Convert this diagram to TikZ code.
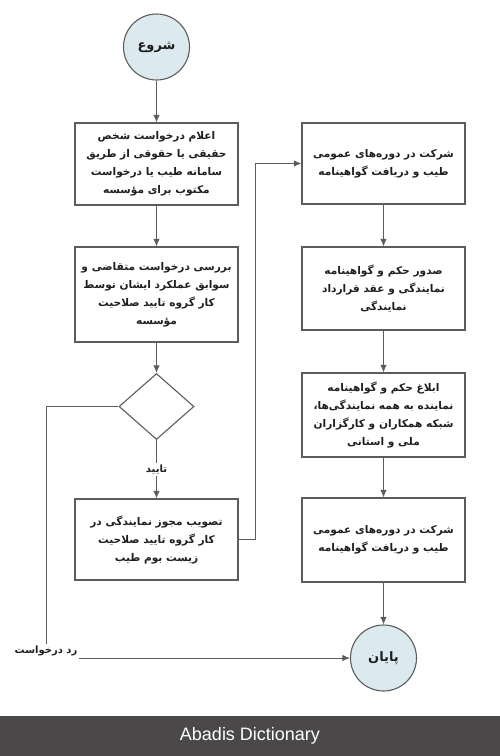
\documentclass[tikz,border=0pt]{standalone}
\usepackage{fontspec}
\setmainfont{Liberation Sans}
\newfontfamily\farsi[Script=Arabic]{DejaVu Sans}
\TeXXeTstate=1
\usetikzlibrary{shapes.geometric,arrows.meta}
\definecolor{linegray}{HTML}{5C5C5C}
\definecolor{circfill}{HTML}{DCE9EE}
\definecolor{bargray}{HTML}{4A4849}
\definecolor{inkgray}{HTML}{1F1F1F}
\newcommand{\fa}[1]{\beginR #1\endR}

\begin{document}
\begin{tikzpicture}[x=1pt,y=-1pt,>={Latex[length=7.5pt,width=6.5pt]},
        task/.style={draw=linegray, line width=1.1pt, minimum width=163, inner sep=2pt,
            align=center, text=inkgray, font=\farsi\bfseries\fontsize{10.6}{18}\selectfont},
        term/.style={circle, draw=linegray, line width=1.1pt, fill=circfill, minimum size=66,
            inner sep=0pt, text=inkgray, font=\farsi\bfseries\fontsize{13}{15}\selectfont},
        choice/.style={diamond, draw=linegray, line width=1.1pt, minimum width=75,
            minimum height=66, inner sep=0pt},
        lbl/.style={fill=white, inner sep=2pt, text=inkgray,
            font=\farsi\bfseries\fontsize{10}{12}\selectfont},
        flow/.style={draw=linegray, line width=1pt}]
    \useasboundingbox (0,0) rectangle (500,756);

    % start and end
    \node[term] (start) at (156.5,47) {\fa{شروع}};
    \node[term] (fin) at (383.5,658) {\fa{پایان}};

    % left column
    \node[task, minimum height=82] (req) at (156.5,164)
        {\fa{اعلام درخواست شخص}\\\fa{حقیقی یا حقوقی از طریق}\\\fa{سامانه طیب یا درخواست}\\\fa{مکتوب برای مؤسسه}};
    \node[task, minimum height=95] (check) at (156.5,294.5)
        {\fa{بررسی درخواست متقاضی و}\\\fa{سوابق عملکرد ایشان توسط}\\\fa{کار گروه تایید صلاحیت}\\\fa{مؤسسه}};
    \node[choice] (dec) at (156.5,406.5) {};
    \node[task, minimum height=81] (approve) at (156.5,539.5)
        {\fa{تصویب مجوز نمایندگی در}\\\fa{کار گروه تایید صلاحیت}\\\fa{زیست بوم طیب}};

    % right column
    \node[task, minimum height=81] (course) at (383.5,163.5)
        {\fa{شرکت در دوره‌های عمومی}\\\fa{طیب و دریافت گواهینامه}};
    \node[task, minimum height=83] (issue) at (383.5,288.5)
        {\fa{صدور حکم و گواهینامه}\\\fa{نمایندگی و عقد قرارداد}\\\fa{نمایندگی}};
    \node[task, minimum height=84] (notify) at (383.5,415)
        {\fa{ابلاغ حکم و گواهینامه}\\\fa{نماینده به همه نمایندگی‌ها،}\\\fa{شبکه همکاران و کارگزاران}\\\fa{ملی و استانی}};
    \node[task, minimum height=84] (course2) at (383.5,540)
        {\fa{شرکت در دوره‌های عمومی}\\\fa{طیب و دریافت گواهینامه}};

    % rejection label
    \node[lbl] (rej) at (46,651) {\fa{رد درخواست}};

    % arrows down the left side
    \draw[flow,->] (start) -- (req);
    \draw[flow,->] (req) -- (check);
    \draw[flow,->] (check) -- (dec);
    \draw[flow,->] (dec) -- node[lbl] (ok) {\fa{تایید}} (approve);

    % over to the right side
    \coordinate (turn) at (255,163.5);
    \draw[flow,->] (approve.east) -| (turn) -- (course.west);

    % arrows down the right side
    \draw[flow,->] (course) -- (issue);
    \draw[flow,->] (issue) -- (notify);
    \draw[flow,->] (notify) -- (course2);
    \draw[flow,->] (course2) -- (fin);

    % rejected requests
    \draw[flow] (dec.west) -| (rej.north);
    \draw[flow,->] (rej.east |- fin.west) -- (fin.west);

    % footer
    \fill[bargray] (0,716) rectangle (500,756);
    \node[text=white, font=\fontsize{18}{20}\selectfont] (brand) at (250,736) {Abadis Dictionary};
\end{tikzpicture}
\end{document}
